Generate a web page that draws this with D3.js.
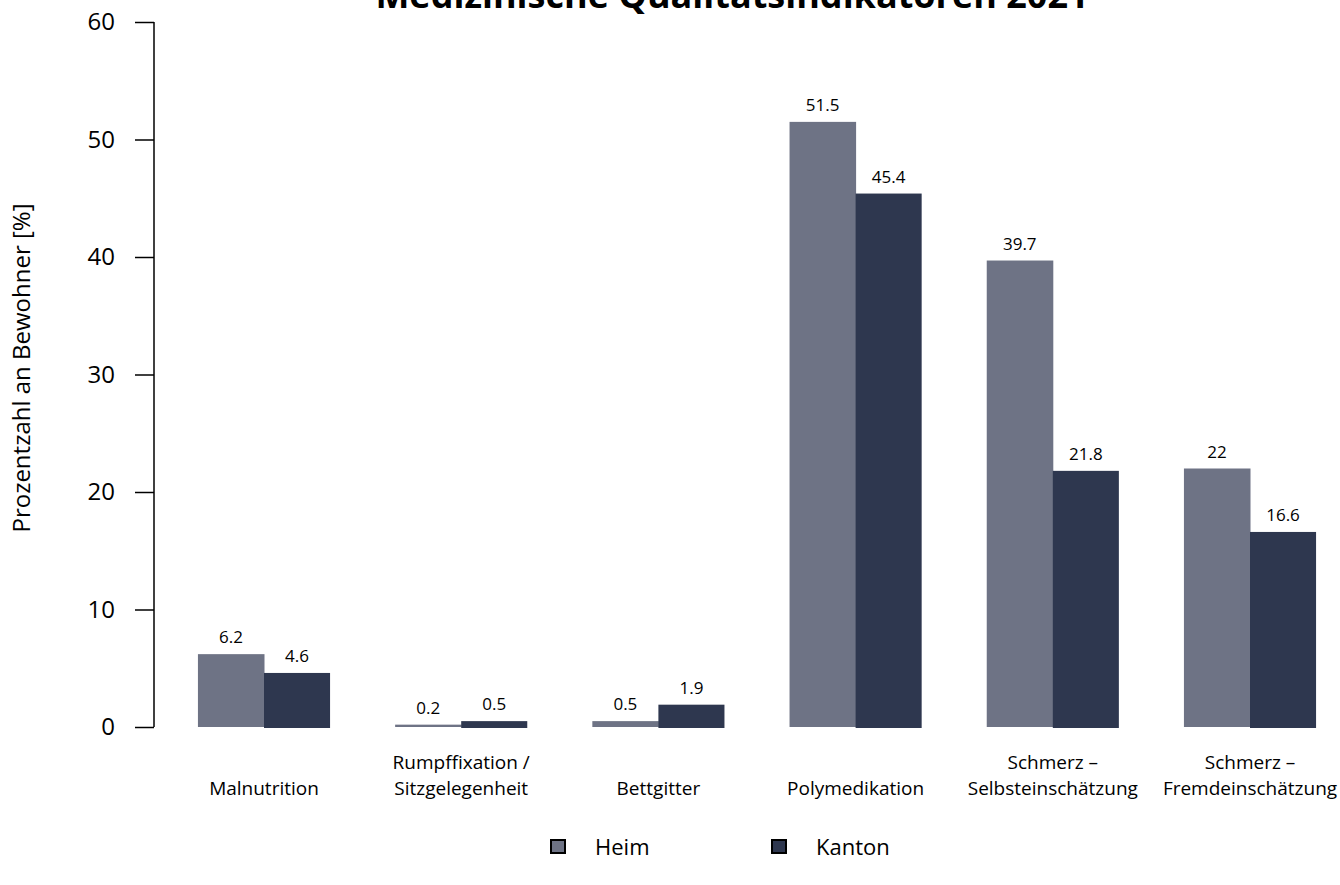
<!DOCTYPE html>
<html><head><meta charset="utf-8">
<script src="https://cdn.jsdelivr.net/npm/d3@7"></script>
<style>body{margin:0;background:#fff}svg{display:block}text{font-family:"Open Sans","Noto Sans",sans-serif}</style>
</head><body>
<svg id="c" width="1340" height="885"></svg>
<script>
const categories = [["Malnutrition"],["Rumpffixation /","Sitzgelegenheit"],["Bettgitter"],["Polymedikation"],["Schmerz –","Selbsteinschätzung"],["Schmerz –","Fremdeinschätzung"]];
const seriesNames = ["Heim","Kanton"];
const heim = [6.2, 0.2, 0.5, 51.5, 39.7, 22];
const kanton = [4.6, 0.5, 1.9, 45.4, 21.8, 16.6];
const heimLabels = ["6.2","0.2","0.5","51.5","39.7","22"];
const kantonLabels = ["4.6","0.5","1.9","45.4","21.8","16.6"];
const yTicks = [0,10,20,30,40,50,60];
const colors = ["#6e7385","#2e374f"];
const title = "Medizinische Qualitätsindikatoren 2021";
const yTitle = "Prozentzahl an Bewohner [%]";

const svg = d3.select("#c");
const y = d3.scaleLinear().domain([0,60]).range([727,22]);
const x0 = d3.scaleBand().domain(d3.range(categories.length)).range([165.4,1348.6]).paddingInner(0.33).paddingOuter(0.165);
const x1 = d3.scaleBand().domain([0,1]).range([0,x0.bandwidth()]);

// title
svg.append("text").attr("x",732).attr("y",8).attr("text-anchor","middle")
  .attr("font-size",36).attr("font-weight","bold").attr("fill","#000").text(title);

// y axis
const yAxis = d3.axisLeft(y).tickValues(yTicks).tickSize(19).tickPadding(20).tickFormat(d3.format("d"));
const ga = svg.append("g").attr("transform","translate(154,0)").call(yAxis);
ga.select(".domain").attr("stroke","#000").attr("stroke-width",1.5).attr("d","M0,22V727");
ga.selectAll(".tick line").attr("stroke","#000").attr("stroke-width",1.5);
ga.selectAll(".tick text").attr("font-size",24).attr("fill","#000").attr("font-family","'Open Sans',sans-serif");

svg.append("text").attr("transform","translate(30,368) rotate(-90)").attr("text-anchor","middle")
  .attr("font-size",24).attr("fill","#000").text(yTitle);

const series = [heim, kanton];
const labels = [heimLabels, kantonLabels];
series.forEach((vals,s)=>{
  svg.append("g").selectAll("rect").data(vals).join("rect")
    .attr("x",(d,i)=>x0(i)+x1(s))
    .attr("width",x1.bandwidth()+ (s===0?0.5:0))
    .attr("y",d=>y(d))
    .attr("height",d=>y(0)-y(d)+ (s===1?1:0))
    .attr("fill",colors[s]);
  svg.append("g").selectAll("text").data(vals).join("text")
    .attr("x",(d,i)=>x0(i)+x1(s)+x1.bandwidth()/2)
    .attr("y",d=>y(d)-11)
    .attr("text-anchor","middle").attr("font-size",17).attr("fill","#000")
    .text((d,i)=>labels[s][i]);
});

// category labels
categories.forEach((lines,i)=>{
  const t = svg.append("text").attr("text-anchor","middle").attr("font-size",19).attr("fill","#000");
  const cx = x0(i)+x0.bandwidth()/2;
  lines.forEach((ln,j)=>{
    t.append("tspan").attr("x",cx).attr("y",795-(lines.length-1-j)*26).text(ln);
  });
});

// legend
const legX = [551, 772];
seriesNames.forEach((n,s)=>{
  svg.append("rect").attr("x",legX[s]).attr("y",840).attr("width",14).attr("height",13)
    .attr("fill",colors[s]).attr("stroke","#000").attr("stroke-width",2);
  svg.append("text").attr("x",legX[s]+44).attr("y",855).attr("font-size",22).attr("fill","#000").text(n);
});
</script>
</body></html>
